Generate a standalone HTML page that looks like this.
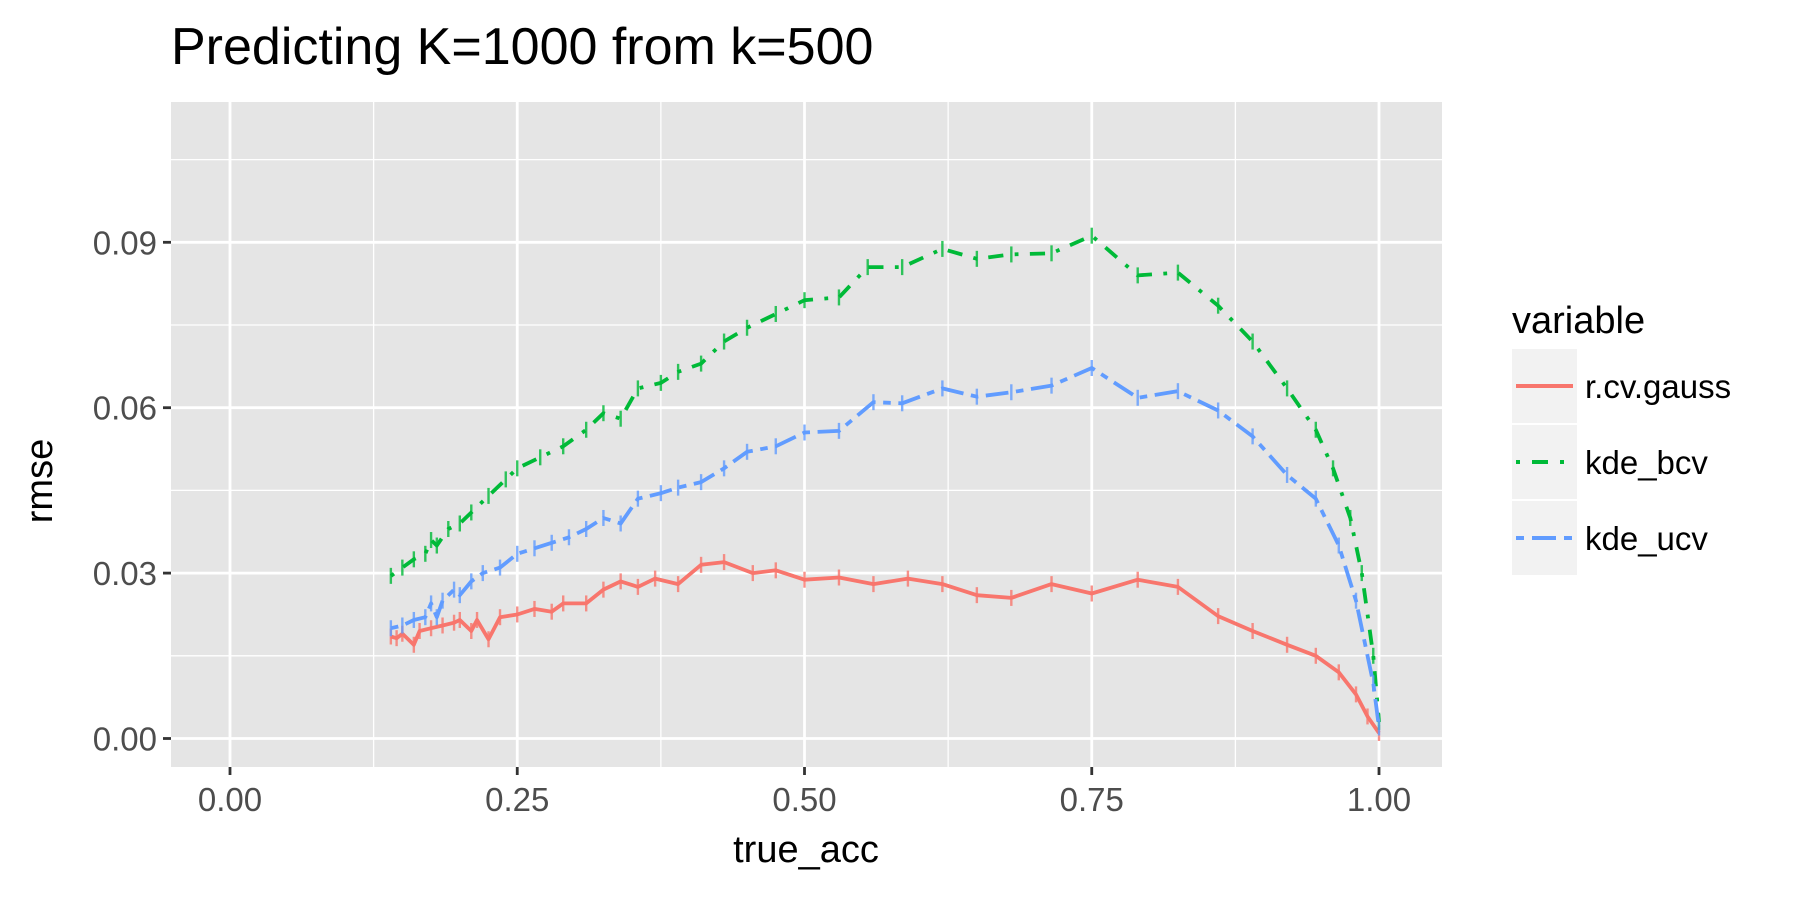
<!DOCTYPE html>
<html><head><meta charset="utf-8"><style>
body{margin:0;background:#fff;}
svg{display:block;font-family:"Liberation Sans",Arial,sans-serif;}
</style></head><body>
<svg id="chart" width="1800" height="900" viewBox="0 0 1800 900" xmlns="http://www.w3.org/2000/svg">
<rect width="1800" height="900" fill="#fff"/>
<text x="171" y="64" font-size="52" fill="#000">Predicting K=1000 from k=500</text>
<rect x="171" y="102" width="1271" height="665" fill="#e5e5e5"/>
<g id="grid"></g>
<g id="series"></g>
<g id="axes"></g>
<text x="806" y="862" font-size="38" text-anchor="middle" fill="#000">true_acc</text>
<text transform="translate(52,481) rotate(-90)" font-size="38" text-anchor="middle" fill="#000">rmse</text>
<g>
<text x="1512" y="333" font-size="38" fill="#000">variable</text>
<g>
<rect x="1512" y="349" width="65" height="74" fill="#f2f2f2"/>
<line x1="1516" y1="386" x2="1573" y2="386" stroke="#F8766D" stroke-width="4"/>
<text x="1585" y="398" font-size="33" fill="#000">r.cv.gauss</text></g>
<g>
<rect x="1512" y="425" width="65" height="74" fill="#f2f2f2"/>
<line x1="1516" y1="462" x2="1573" y2="462" stroke="#00BA38" stroke-width="4" stroke-dasharray="4,12,16,12"/>
<text x="1585" y="474" font-size="33" fill="#000">kde_bcv</text></g>
<g>
<rect x="1512" y="501" width="65" height="74" fill="#f2f2f2"/>
<line x1="1516" y1="538" x2="1573" y2="538" stroke="#619CFF" stroke-width="4" stroke-dasharray="8,8,24,8"/>
<text x="1585" y="550" font-size="33" fill="#000">kde_ucv</text></g>
</g>
</svg>
<script>
const redX=[0.14,0.145,0.15,0.16,0.165,0.175,0.185,0.195,0.2,0.21,0.215,0.225,0.235,0.25,0.265,0.28,0.29,0.31,0.325,0.34,0.355,0.37,0.39,0.41,0.43,0.455,0.475,0.5,0.53,0.56,0.59,0.62,0.65,0.68,0.715,0.75,0.79,0.825,0.86,0.89,0.92,0.945,0.965,0.98,0.99,1.0];
const redY=[0.0185,0.0182,0.019,0.017,0.0195,0.02,0.0205,0.021,0.0215,0.0195,0.0215,0.018,0.022,0.0225,0.0235,0.023,0.0245,0.0245,0.027,0.0285,0.0275,0.029,0.028,0.0315,0.032,0.030,0.0305,0.0288,0.0292,0.028,0.029,0.028,0.026,0.0255,0.028,0.0263,0.0288,0.0275,0.0222,0.0195,0.017,0.015,0.012,0.008,0.004,0.001];
const greenX=[0.14,0.15,0.16,0.17,0.175,0.18,0.19,0.2,0.21,0.225,0.24,0.25,0.27,0.29,0.31,0.325,0.34,0.355,0.375,0.39,0.41,0.43,0.45,0.475,0.5,0.53,0.555,0.585,0.62,0.65,0.68,0.715,0.75,0.79,0.825,0.86,0.89,0.92,0.945,0.96,0.975,0.985,0.995,1.0];
const greenY=[0.0295,0.031,0.0325,0.0335,0.036,0.035,0.038,0.039,0.041,0.044,0.047,0.049,0.051,0.053,0.056,0.059,0.058,0.0635,0.0645,0.0665,0.068,0.072,0.0745,0.077,0.0795,0.080,0.0855,0.0855,0.0888,0.087,0.0878,0.088,0.0912,0.084,0.0845,0.0785,0.072,0.0635,0.056,0.049,0.040,0.030,0.015,0.003];
const blueX=[0.14,0.15,0.16,0.17,0.175,0.18,0.185,0.195,0.2,0.21,0.22,0.235,0.25,0.265,0.28,0.295,0.31,0.325,0.34,0.355,0.375,0.39,0.41,0.43,0.45,0.475,0.5,0.53,0.56,0.585,0.62,0.65,0.68,0.715,0.75,0.79,0.825,0.86,0.89,0.92,0.945,0.965,0.98,0.995,1.0];
const blueY=[0.020,0.0205,0.0215,0.022,0.0245,0.022,0.025,0.027,0.026,0.0285,0.030,0.031,0.0335,0.0345,0.0355,0.0365,0.038,0.040,0.039,0.0435,0.0445,0.0455,0.0465,0.049,0.052,0.053,0.0555,0.0558,0.061,0.0608,0.0635,0.062,0.0628,0.064,0.0672,0.0618,0.063,0.0595,0.0548,0.0478,0.0435,0.035,0.025,0.010,0.002];
const xTicks=[0,0.25,0.5,0.75,1];
const xTickLabels=["0.00","0.25","0.50","0.75","1.00"];
const yTicks=[0,0.03,0.06,0.09];
const yTickLabels=["0.00","0.03","0.06","0.09"];

const NS="http://www.w3.org/2000/svg";
const PL=171,PR=1442,PT=102,PB=767;
function sx(v){return 230+v*1149;}
function sy(v){return 738.5-v*(496.2/0.09);}
function mk(tag,attrs,parent){const e=document.createElementNS(NS,tag);for(const k in attrs)e.setAttribute(k,attrs[k]);parent.appendChild(e);return e;}
const grid=document.getElementById('grid'),series=document.getElementById('series'),axes=document.getElementById('axes');
[0.125,0.375,0.625,0.875].forEach(v=>{const l=mk('line',{x1:sx(v),x2:sx(v),y1:PT,y2:PB,stroke:'#fff','stroke-width':1.3},grid);

});
[0.015,0.045,0.075,0.105].forEach(v=>{const l=mk('line',{x1:PL,x2:PR,y1:sy(v),y2:sy(v),stroke:'#fff','stroke-width':1.3},grid);

});
xTicks.forEach((v,i)=>{const l=mk('line',{x1:sx(v),x2:sx(v),y1:PT,y2:PB,stroke:'#fff','stroke-width':2.8},grid);


const t=mk('line',{x1:sx(v),x2:sx(v),y1:PB,y2:PB+8,stroke:'#333','stroke-width':2.8},axes);


const tx=mk('text',{x:sx(v),y:PB+44,'font-size':33,'text-anchor':'middle',fill:'#4d4d4d'},axes);tx.textContent=xTickLabels[i];

});
yTicks.forEach((v,i)=>{const l=mk('line',{x1:PL,x2:PR,y1:sy(v),y2:sy(v),stroke:'#fff','stroke-width':2.8},grid);


const t=mk('line',{x1:PL-8,x2:PL,y1:sy(v),y2:sy(v),stroke:'#333','stroke-width':2.8},axes);


const tx=mk('text',{x:PL-14,y:sy(v)+12,'font-size':33,'text-anchor':'end',fill:'#4d4d4d'},axes);tx.textContent=yTickLabels[i];

});
function drawSeries(xs,ys,color,dash,name){
  const d=xs.map((x,i)=>(i?'L':'M')+sx(x).toFixed(1)+','+sy(ys[i]).toFixed(1)).join(' ');
  const p=mk('path',{d:d,fill:'none',stroke:color,'stroke-width':3.8,'stroke-dasharray':dash,'stroke-linejoin':'round'},series);
  
  
  xs.forEach((x,i)=>{const e=mk('line',{x1:sx(x),x2:sx(x),y1:sy(ys[i])-8,y2:sy(ys[i])+8,stroke:color,'stroke-width':2.4,opacity:0.8},series);
  
  });
}
drawSeries(redX,redY,'#F8766D','none','r-cv-gauss');
drawSeries(greenX,greenY,'#00BA38','3.8,11.4,15.2,11.4','kde-bcv');
drawSeries(blueX,blueY,'#619CFF','7.6,7.6,22.8,7.6','kde-ucv');
</script>
</body></html>
